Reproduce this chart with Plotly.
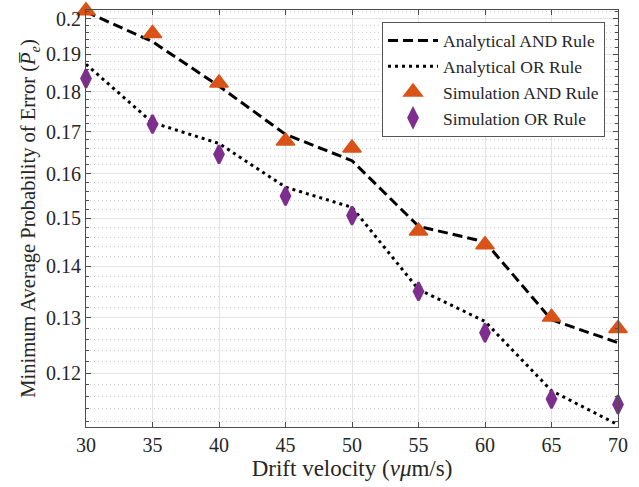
import plotly.graph_objects as go

velocity = [30, 35, 40, 45, 50, 55, 60, 65, 70]
analytical_and = [0.2020, 0.1935, 0.1815, 0.1693, 0.1630, 0.1483, 0.1450, 0.1296, 0.1254]
analytical_or = [0.1873, 0.1722, 0.1671, 0.1569, 0.1524, 0.1354, 0.1293, 0.1170, 0.1114]
simulation_and = [0.2023, 0.1958, 0.1823, 0.1677, 0.1660, 0.1473, 0.1444, 0.1301, 0.1280]
simulation_or = [0.1835, 0.1718, 0.1645, 0.1549, 0.1506, 0.1350, 0.1272, 0.1156, 0.1147]

y_tickvals = [0.12, 0.13, 0.14, 0.15, 0.16, 0.17, 0.18, 0.19, 0.2]
y_ticktext = ["0.12", "0.13", "0.14", "0.15", "0.16", "0.17", "0.18", "0.19", "0.2"]
y_minorvals = [round(0.112 + 0.002 * i, 3) for i in range(46)]
x_tickvals = [30, 35, 40, 45, 50, 55, 60, 65, 70]

FONT = "Liberation Serif"
AXC = "#4d4d4d"

fig = go.Figure()
fig.add_trace(go.Scatter(x=velocity, y=analytical_and, mode="lines",
                         name="Analytical AND Rule",
                         line=dict(color="black", width=3, dash="10px,5px")))
fig.add_trace(go.Scatter(x=velocity, y=analytical_or, mode="lines",
                         name="Analytical OR Rule",
                         line=dict(color="black", width=3, dash="3px,4px")))
fig.add_trace(go.Scatter(x=velocity, y=simulation_and, mode="markers",
                         name="Simulation AND Rule", cliponaxis=False,
                         marker=dict(symbol="triangle-up", size=16, color="#D95319",
                                     line=dict(width=1.5, color="#D95319"))))
fig.add_trace(go.Scatter(x=velocity, y=simulation_or, mode="markers",
                         name="Simulation OR Rule", cliponaxis=False,
                         marker=dict(symbol="diamond-tall", size=13, color="#7E2F8E",
                                     line=dict(width=2.5, color="#7E2F8E"))))

fig.update_layout(
    width=639, height=487,
    margin=dict(l=86, r=21, t=8, b=60),
    paper_bgcolor="white", plot_bgcolor="white",
    font=dict(family=FONT, size=20, color="#262626"),
    showlegend=True,
    legend=dict(x=0.9756, y=0.972, xanchor="right", yanchor="top",
                bgcolor="white", bordercolor="#555555", borderwidth=1,
                font=dict(family=FONT, size=17.5, color="#262626"),
                tracegroupgap=0, itemwidth=50),
    xaxis=dict(
        range=[30, 70], tickvals=x_tickvals,
        ticks="inside", ticklen=5, tickcolor=AXC,
        showline=True, linecolor=AXC, linewidth=1, mirror="ticks",
        showgrid=True, gridcolor="#e3e3e3", gridwidth=1,
        zeroline=False,
        title=dict(text="Drift velocity (<i>v</i><i>μ</i>m/s)", standoff=4,
                   font=dict(family=FONT, size=23)),
        tickfont=dict(family=FONT, size=20),
    ),
    yaxis=dict(
        type="log", range=[-0.9545, -0.6935],
        tickvals=y_tickvals, ticktext=y_ticktext,
        ticks="inside", ticklen=5, tickcolor=AXC,
        showline=True, linecolor=AXC, linewidth=1, mirror="ticks",
        showgrid=True, gridcolor="#e3e3e3", gridwidth=1,
        zeroline=False,
        minor=dict(tickmode="array", tickvals=y_minorvals, ticks="inside",
                   ticklen=3, tickcolor=AXC, showgrid=True,
                   gridcolor="#cfcfcf", griddash="1px,3px", gridwidth=1),
        title=dict(text="Minimum Average Probability of Error (<i>P\u0305</i><sub><i>e</i></sub>)",
                   standoff=4, font=dict(family=FONT, size=20.5)),
        tickfont=dict(family=FONT, size=20),
    ),
)

fig.write_html("out.html")
